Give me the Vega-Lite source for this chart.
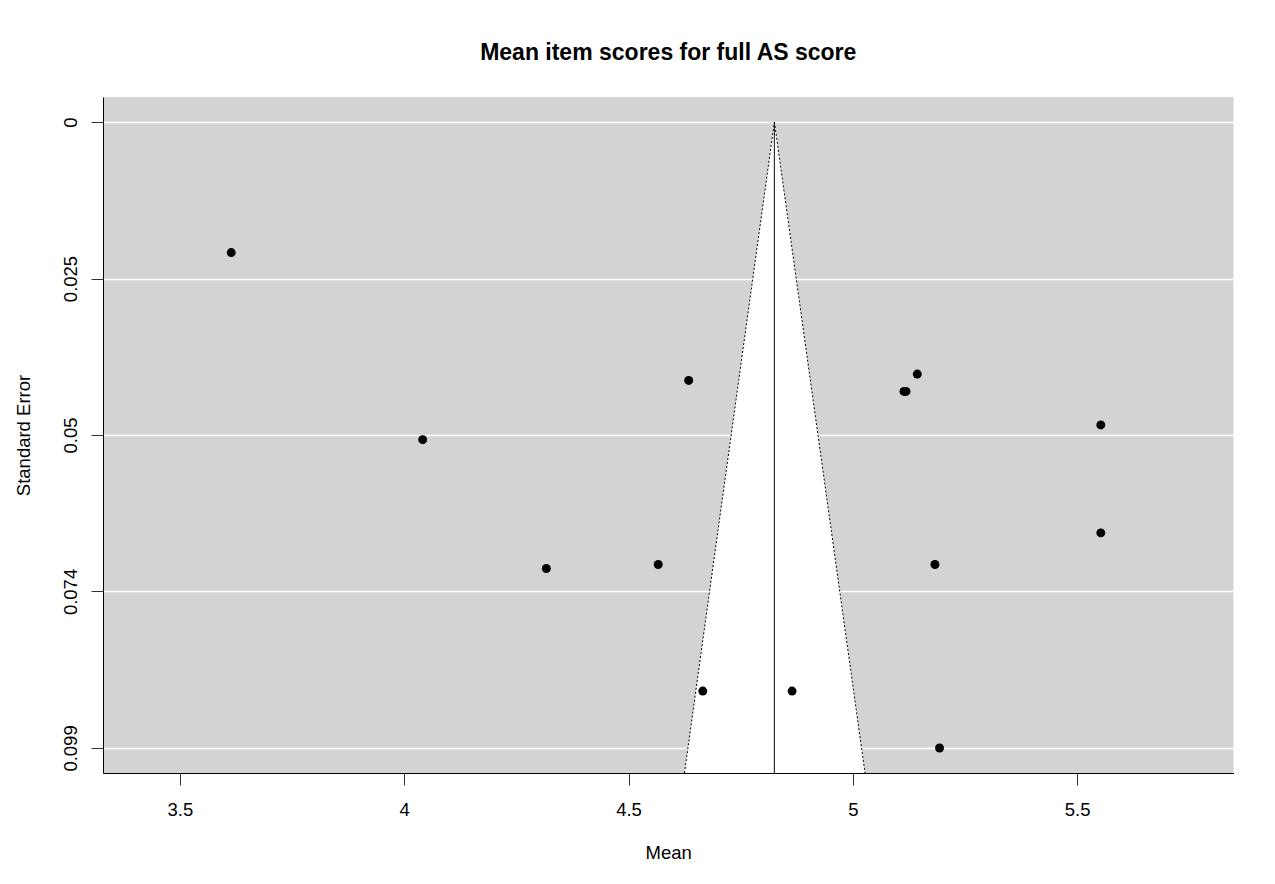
{
  "$schema": "https://vega.github.io/schema/vega-lite/v6.json",
  "width": 1130.5,
  "height": 676,
  "autosize": {"type": "none"},
  "padding": {"left": 103, "top": 97, "right": 41.5, "bottom": 111},
  "background": "white",
  "title": {
    "text": "Mean item scores for full AS score",
    "anchor": "middle",
    "frame": "group",
    "fontSize": 23,
    "fontWeight": "bold",
    "font": "Liberation Sans",
    "color": "black",
    "baseline": "alphabetic",
    "offset": 14
  },
  "datasets": {
    "funnel": [
      {"se": 0, "lo": 4.8252, "hi": 4.8252, "est": 4.8252},
      {"se": 0.10296, "lo": 4.6247, "hi": 5.0272, "est": 4.8252}
    ],
    "items": [
      {"mean": 3.6143, "se": 0.02065},
      {"mean": 4.0412, "se": 0.05024},
      {"mean": 4.3167, "se": 0.07062},
      {"mean": 4.5662, "se": 0.06998},
      {"mean": 4.6341, "se": 0.04087},
      {"mean": 4.6655, "se": 0.09},
      {"mean": 4.8646, "se": 0.09},
      {"mean": 5.114, "se": 0.04261},
      {"mean": 5.1185, "se": 0.04261},
      {"mean": 5.1437, "se": 0.03986},
      {"mean": 5.5528, "se": 0.04791},
      {"mean": 5.5528, "se": 0.06498},
      {"mean": 5.1831, "se": 0.06998},
      {"mean": 5.1933, "se": 0.099}
    ]
  },
  "encoding": {
    "y": {
      "field": "se",
      "type": "quantitative",
      "title": "Standard Error",
      "scale": {"domain": [-0.00396, 0.10296], "reverse": true, "nice": false, "zero": false},
      "axis": {
        "values": [0, 0.02475, 0.0495, 0.07425, 0.099],
        "labelExpr": "datum.value < 0.01 ? '0' : datum.value < 0.03 ? '0.025' : datum.value < 0.06 ? '0.05' : datum.value < 0.08 ? '0.074' : '0.099'",
        "labelAngle": -90,
        "labelAlign": "center",
        "labelBaseline": "alphabetic",
        "labelPadding": 15,
        "tickSize": 12,
        "grid": true,
        "gridColor": "white",
        "gridWidth": 1.5,
        "domainColor": "black",
        "tickColor": "#333",
        "labelFontSize": 18.5,
        "labelColor": "black",
        "labelFlush": false,
        "labelOverlap": false,
        "titleFontSize": 18.5,
        "titleFontWeight": "normal",
        "titleColor": "black",
        "titleX": -74,
        "titleY": 338,
        "titleAngle": -90,
        "titleBaseline": "alphabetic",
        "titleAlign": "center"
      }
    }
  },
  "layer": [
    {
      "data": {"name": "funnel"},
      "mark": {"type": "area", "orient": "horizontal", "fill": "white", "opacity": 1},
      "encoding": {
        "x": {
          "field": "lo",
          "type": "quantitative",
          "title": "Mean",
          "scale": {"domain": [3.3285, 5.8486], "nice": false, "zero": false},
          "axis": {
            "values": [3.5, 4, 4.5, 5, 5.5],
            "format": ".2~f",
            "grid": false,
            "tickSize": 12,
            "labelPadding": 30,
            "labelBaseline": "alphabetic",
            "domainColor": "black",
            "tickColor": "#333",
            "labelFontSize": 18.5,
            "labelColor": "black",
            "labelFlush": false,
            "labelOverlap": false,
            "titleFontSize": 18.5,
            "titleFontWeight": "normal",
            "titleColor": "black",
            "titleX": 565.25,
            "titleY": 85.3,
            "titleBaseline": "alphabetic",
            "titleAlign": "center"
          }
        },
        "x2": {"field": "hi"}
      }
    },
    {
      "data": {"name": "funnel"},
      "mark": {"type": "line", "color": "#333", "strokeWidth": 1.2},
      "encoding": {
        "x": {"field": "est", "type": "quantitative", "title": "Mean"}
      }
    },
    {
      "data": {"name": "funnel"},
      "mark": {"type": "line", "color": "black", "strokeWidth": 1, "strokeDash": [2, 2]},
      "encoding": {
        "x": {"field": "lo", "type": "quantitative", "title": "Mean"}
      }
    },
    {
      "data": {"name": "funnel"},
      "mark": {"type": "line", "color": "black", "strokeWidth": 1, "strokeDash": [2, 2]},
      "encoding": {
        "x": {"field": "hi", "type": "quantitative", "title": "Mean"}
      }
    },
    {
      "data": {"name": "items"},
      "mark": {"type": "point", "filled": true, "size": 80, "color": "black", "opacity": 1},
      "encoding": {
        "x": {"field": "mean", "type": "quantitative", "title": "Mean"}
      }
    }
  ],
  "config": {
    "view": {"fill": "#d3d3d3", "stroke": null},
    "font": "Liberation Sans"
  }
}
